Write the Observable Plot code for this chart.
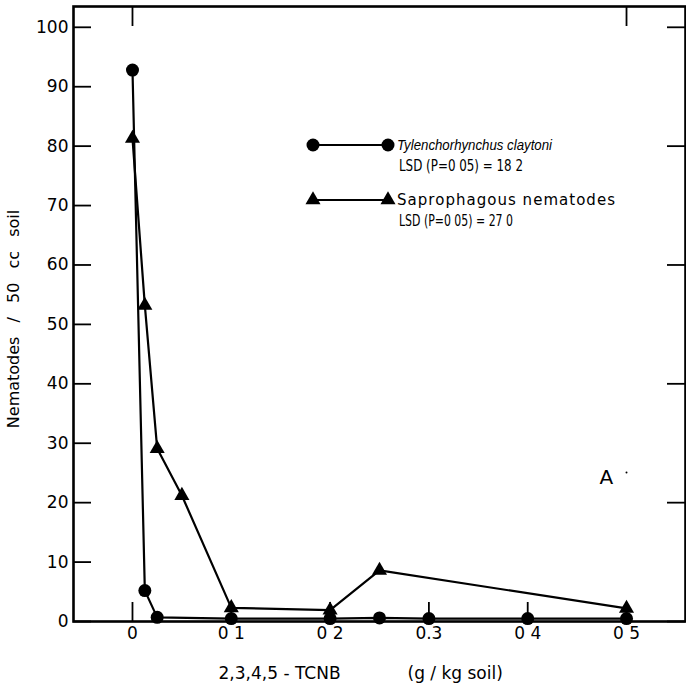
<!DOCTYPE html>
<html>
<head>
<meta charset="utf-8">
<script src="https://cdn.jsdelivr.net/npm/d3@7"></script>
<script src="https://cdn.jsdelivr.net/npm/@observablehq/plot@0.6"></script>
<style>
  body { margin: 0; background: #fff; }
  #chart { position: relative; width: 686px; height: 684px; }
  #chart svg { display: block; }
  #overlay { position: absolute; left: 0; top: 0; pointer-events: none; }
</style>
</head>
<body>
<div id="chart"></div>
<script>
// Data
const tylenchDose = [0, 0.0125, 0.025, 0.1, 0.2, 0.25, 0.3, 0.4, 0.5];
const tylenchCount = [92.8, 5.2, 0.7, 0.5, 0.5, 0.6, 0.5, 0.5, 0.5];
const saproDose = [0, 0.0125, 0.025, 0.05, 0.1, 0.2, 0.25, 0.5];
const saproCount = [81.3, 53.2, 29.1, 21.2, 2.3, 1.9, 8.6, 2.2];

const xTicks = [0, 0.1, 0.2, 0.3, 0.4, 0.5];
const xTickLabels = ["0", "0 1", "0 2", "0.3", "0 4", "0 5"];
const xTopTicks = [0, 0.5];
const yTicks = [0, 10, 20, 30, 40, 50, 60, 70, 80, 90, 100];
const yRightTicks = [0, 20, 40, 60, 80, 100];

const seriesNames = ["Tylenchorhynchus claytoni", "Saprophagous nematodes"];
const lsdLabels = ["LSD (P=0 05) = 18 2", "LSD (P=0 05) = 27 0"];
const xLabelParts = ["2,3,4,5 - TCNB", "(g / kg soil)"];
const yLabel = "Nematodes / 50 cc soil";
const panelLabel = "A";

const tylench = tylenchDose.map((x, i) => ({x, y: tylenchCount[i]}));
const sapro = saproDose.map((x, i) => ({x, y: saproCount[i]}));

const W = 686, H = 684, ML = 73, MR = 1, MT = 6, MB = 63;
const frameW = W - ML - MR, frameH = H - MT - MB;
const tickStyle = {stroke: "#000", strokeWidth: 1.8};

const plot = Plot.plot({
  width: W,
  height: H,
  marginLeft: ML,
  marginRight: MR,
  marginTop: MT,
  marginBottom: MB,
  style: {fontFamily: "DejaVu Sans", fontSize: "17px", color: "#000", background: "#fff"},
  x: {domain: [-0.0597, 0.5597]},
  y: {domain: [0, 103.5]},
  marks: [
    // inward tick marks on all four sides
    Plot.tickY(yTicks, {y: d => d, insetRight: frameW - 18, ...tickStyle}),
    Plot.tickY(yRightTicks, {y: d => d, insetLeft: frameW - 18, ...tickStyle}),
    Plot.tickX(xTicks, {x: d => d, insetTop: frameH - 19, ...tickStyle}),
    Plot.tickX(xTopTicks, {x: d => d, insetBottom: frameH - 20, ...tickStyle}),
    // tick labels outside the frame
    Plot.axisY(yTicks, {anchor: "left", tickSize: 0, tickPadding: 5, label: null}),
    Plot.axisX(xTicks, {anchor: "bottom", tickSize: 0, tickPadding: 5,
      tickFormat: d => xTickLabels[xTicks.indexOf(d)], label: null}),
    Plot.line(tylench, {x: "x", y: "y", stroke: "#000", strokeWidth: 2.2}),
    Plot.line(sapro, {x: "x", y: "y", stroke: "#000", strokeWidth: 2.2}),
    Plot.dot(tylench, {x: "x", y: "y", r: 6.5, fill: "#000"}),
    Plot.dot(sapro, {x: "x", y: "y", r: 5.6, symbol: "triangle", fill: "#000"}),
    Plot.frame({stroke: "#000", strokeWidth: 2.6}),
    Plot.text([yLabel], {frameAnchor: "left", rotate: -90, textAnchor: "middle", dx: -60, dy: 5, fontSize: 16}),
    Plot.text([xLabelParts[0]], {frameAnchor: "bottom-left", dx: 145, dy: 57, textAnchor: "start", fontSize: 17}),
    Plot.text([xLabelParts[1]], {frameAnchor: "bottom-left", dx: 334, dy: 57, textAnchor: "start", fontSize: 17}),
    Plot.text([panelLabel], {frameAnchor: "top-left", dx: 526, dy: 463, fontSize: 20}),
    Plot.dot([panelLabel], {frameAnchor: "top-left", dx: 553, dy: 466, r: 1, fill: "#000"})
  ]
});

// wider word spacing on the y label, as in the reference typography
d3.select(plot).selectAll("text").filter(function() { return this.textContent === yLabel; })
  .style("word-spacing", "9px");

const chart = document.getElementById("chart");
chart.appendChild(plot);

// Legend overlay
const ov = d3.select(chart).append("svg").attr("id", "overlay")
  .attr("width", W).attr("height", H);
const legendRows = [
  {y: 145, sym: d3.symbolCircle, size: Math.PI * 6.5 * 6.5, name: seriesNames[0], lsd: lsdLabels[0], italic: true},
  {y: 200, sym: d3.symbolTriangle, size: Math.PI * 5.6 * 5.6, name: seriesNames[1], lsd: lsdLabels[1], italic: false}
];
legendRows.forEach(r => {
  ov.append("line").attr("x1", 313).attr("x2", 388).attr("y1", r.y).attr("y2", r.y)
    .attr("stroke", "#000").attr("stroke-width", 2.2);
  [313, 388].forEach(x => ov.append("path").attr("d", d3.symbol(r.sym, r.size)())
    .attr("transform", `translate(${x},${r.y})`).attr("fill", "#000"));
  const t = ov.append("text").attr("x", 397).attr("y", r.y).attr("dy", "0.35em").text(r.name);
  if (r.italic) {
    t.attr("font-family", "Liberation Sans").attr("font-style", "italic").attr("font-size", 15)
     .attr("textLength", 155).attr("lengthAdjust", "spacingAndGlyphs");
  } else {
    t.attr("font-family", "DejaVu Sans").attr("font-size", 15)
     .attr("textLength", 218).attr("lengthAdjust", "spacing");
  }
  ov.append("text").attr("x", 399).attr("y", r.y + 21).attr("dy", "0.35em")
    .attr("font-family", "DejaVu Sans").attr("font-size", 15)
    .attr("textLength", r.italic ? 124 : 114).attr("lengthAdjust", "spacingAndGlyphs")
    .text(r.lsd);
});
</script>
</body>
</html>
